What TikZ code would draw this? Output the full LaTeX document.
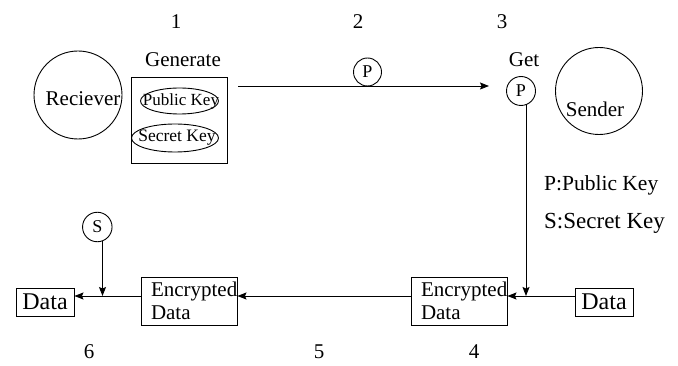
\documentclass[tikz,border=0pt]{standalone}
\usepackage{fontspec}
\setmainfont{Liberation Serif}
\usetikzlibrary{arrows.meta,shapes.geometric}

\tikzset{
  every picture/.style={x=1pt,y=-1pt},
  line/.style={line width=0.9pt},
  arr/.style={line, -{Stealth[length=9pt,width=7pt,inset=1.5pt]}},
  txt/.style={inner sep=0pt, font=\fontsize{21}{23}\selectfont},
  num/.style={txt},
  party/.style={draw, line, circle, inner sep=0pt},
  keycirc/.style={draw, line, circle, inner sep=0pt, minimum size=28pt,
    font=\fontsize{18}{20}\selectfont},
  keyoval/.style={draw, line, ellipse, inner sep=0pt},
  encbox/.style={draw, line, minimum width=96pt, minimum height=48pt,
    align=left, text width=76pt, inner xsep=10pt, inner ysep=0pt,
    font=\fontsize{21}{23.3}\selectfont},
  databox/.style={draw, line, minimum width=58pt, minimum height=28pt,
    inner sep=0pt, font=\fontsize{24}{26}\selectfont},
}

\begin{document}
\begin{tikzpicture}
\useasboundingbox (0,0) rectangle (678,366);

% step numbers
\node[num] (n1) at (176,22) {1};
\node[num] (n2) at (358,22) {2};
\node[num] (n3) at (502,22) {3};
\node[num] (n6) at (89,352) {6};
\node[num] (n5) at (319,352) {5};
\node[num] (n4) at (474,352) {4};

% receiver side: key generation
\node[party, minimum size=88pt] (recv) at (78,95) {};
\node[txt] (recvt) at (83,99) {Reciever};
\node[txt] (gen) at (183,60) {Generate};
\node[draw, line, minimum width=96pt, minimum height=86pt, inner sep=0pt] (genbox) at (179,120) {};
\node[keyoval, minimum width=78pt, minimum height=26pt] (pub) at (179.5,101) {};
\node[txt, font=\fontsize{17}{19}\selectfont] (pubt) at (181,101) {Public Key};
\node[keyoval, minimum width=87pt, minimum height=28pt] (sec) at (175,138) {};
\node[txt, font=\fontsize{17.5}{19}\selectfont] (sect) at (177,138) {Secret Key};

% public key transfer
\coordinate (ts) at (238,86);
\coordinate (te) at (489,86);
\draw[arr] (ts) -- (te);
\node[keycirc] (ptr) at (367.5,72) {P};

% sender side
\node[txt] (get) at (524,60) {Get};
\node[keycirc, minimum size=29pt] (pget) at (521,91) {P};
\node[party, minimum size=87pt] (send) at (599,91) {};
\node[txt] (sendt) at (595,109) {Sender};

% legend
\node[txt, anchor=west, font=\fontsize{21.5}{23}\selectfont] (lp) at (544,185) {P:Public Key};
\node[txt, anchor=west, font=\fontsize{23}{25}\selectfont] (ls) at (544,223) {S:Secret Key};

% data path
\node[databox] (dright) at (604,302) {Data};
\node[encbox] (enc2) at (459,301) {Encrypted\\Data};
\node[encbox] (enc1) at (189,301) {Encrypted\\Data};
\node[databox] (dleft) at (45,302) {Data};
\node[keycirc, minimum size=29.5pt] (skey) at (97.3,227) {S};

\coordinate (ay) at (0,296);
\coordinate (pdrop) at (526,105.5);
\coordinate (sdrop) at (102.5,241);

\draw[arr] (dright.west |- ay) -- (enc2.east |- ay);
\draw[arr] (pdrop) -- (pdrop |- ay);
\draw[arr] (enc2.west |- ay) -- (enc1.east |- ay);
\draw[arr] (enc1.west |- ay) -- (dleft.east |- ay);
\draw[arr] (sdrop) -- (sdrop |- ay);
\end{tikzpicture}
\end{document}
